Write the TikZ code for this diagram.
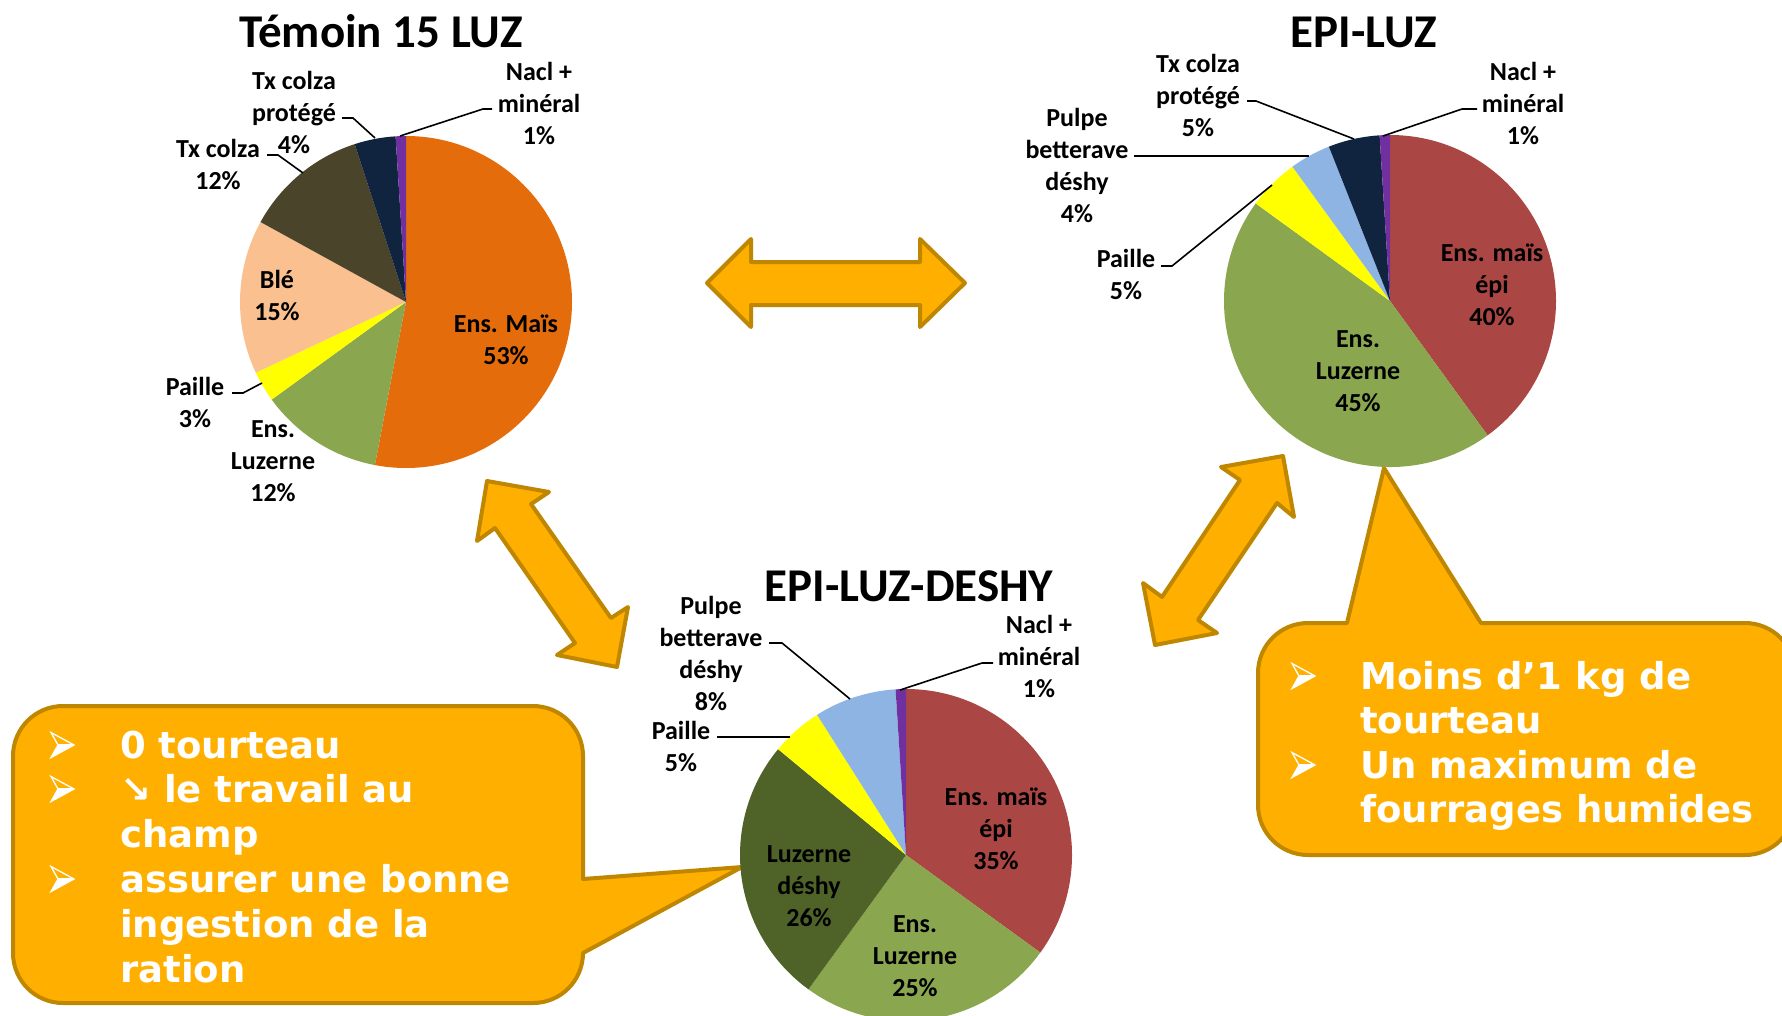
\documentclass[tikz,border=0pt]{standalone}
\usepackage{fontspec}
\setmainfont{Carlito}
\newfontfamily\callfont{DejaVu Sans}
\definecolor{mais}{HTML}{E46C0A}
\definecolor{luz}{HTML}{8AA64F}
\definecolor{ble}{HTML}{FAC090}
\definecolor{txc}{HTML}{4A452A}
\definecolor{navy}{HTML}{10243F}
\definecolor{nacl}{HTML}{7030A0}
\definecolor{paille}{HTML}{FFFF00}
\definecolor{epi}{HTML}{AA4643}
\definecolor{pulpe}{HTML}{8EB4E3}
\definecolor{luzd}{HTML}{4F6228}
\definecolor{arrowfill}{HTML}{FFAF00}
\definecolor{arrowline}{HTML}{BF8700}
\newcommand\pslice[4]{% center, start %, end %, colour
  \fill[#4] (#1) -- ++({-90+3.6*(#2)}:166) arc[start angle={-90+3.6*(#2)}, end angle={-90+3.6*(#3)}, radius=166] -- cycle;}
\newcommand\plab[3]{% name, first line centre, lines
  \foreach \t [count=\i] in {#3}{\node[lbl, name=#1-\i, yshift={-(32*(\i-1)+9)*1pt}] at (#2) {\t};}}
\begin{document}
\begin{tikzpicture}[x=1pt,y=-1pt,
  lbl/.style={font=\fontsize{26}{32}\selectfont\bfseries, inner sep=0pt, anchor=base},
  ttl/.style={font=\fontsize{47}{56}\selectfont\bfseries, inner sep=0pt, anchor=base},
  leader/.style={draw=black, line width=1.6pt},
  bigarrow/.style={fill=arrowfill, draw=arrowline, line width=4pt, line join=round},
  ctext/.style={font=\callfont\bfseries\fontsize{37}{45}\selectfont, text=white, inner sep=0pt, anchor=base west},
  bul/.pic={
    \fill[white] (-4,0) -- (12,0) -- (-11,12.5) -- cycle;
    \draw[white, line width=1.3pt, line join=miter] (-11,-12.5) -- (12,0) -- (-11,12.5) -- (-4,0) -- cycle;
    \draw[white, line width=1.3pt] (-4,0) -- (12,0);
  }]
\useasboundingbox (0,0) rectangle (1782,1015);
\fill[white] (0,0) rectangle (1782,1015);

% callouts
\draw[bigarrow] (1347,623) -- (1384,468) -- (1481,623) -- (1745,623)
  arc[start angle=-90, end angle=0, radius=50] -- (1795,805)
  arc[start angle=0, end angle=90, radius=50] -- (1308,855)
  arc[start angle=90, end angle=180, radius=50] -- (1258,673)
  arc[start angle=180, end angle=270, radius=50] -- cycle;
\draw[bigarrow] (583,879) -- (742,867) -- (583,953)
  arc[start angle=0, end angle=90, radius=50] -- (63,1003)
  arc[start angle=90, end angle=180, radius=50] -- (13,756)
  arc[start angle=180, end angle=270, radius=50] -- (533,706)
  arc[start angle=270, end angle=360, radius=50] -- cycle;

% double arrows
\draw[bigarrow] (707,283) -- (751,239) -- (751,262) -- (920,262) -- (920,239) -- (965,283)
  -- (920,327) -- (920,305) -- (751,305) -- (751,327) -- cycle;
\draw[bigarrow] (487,481) -- (549,492) -- (531,504) -- (611,618) -- (628,607) -- (617,667)
  -- (557,655) -- (575,643) -- (495,528) -- (477,541) -- cycle;
\draw[bigarrow] (1283,456) -- (1294,517) -- (1277,503) -- (1198,620) -- (1217,633) -- (1155,645)
  -- (1143,583) -- (1162,597) -- (1240,480) -- (1221,467) -- cycle;

% pies
\coordinate (c1) at (406,302);
\coordinate (c2) at (1390,301);
\coordinate (c3) at (906,855);
\pslice{c1}{0}{53}{mais}
\pslice{c1}{53}{65}{luz}
\pslice{c1}{65}{68}{paille}
\pslice{c1}{68}{83}{ble}
\pslice{c1}{83}{95}{txc}
\pslice{c1}{95}{99}{navy}
\pslice{c1}{99}{100}{nacl}

\pslice{c2}{0}{40}{epi}
\pslice{c2}{40}{85}{luz}
\pslice{c2}{85}{90}{paille}
\pslice{c2}{90}{94}{pulpe}
\pslice{c2}{94}{99}{navy}
\pslice{c2}{99}{100}{nacl}

\pslice{c3}{0}{35}{epi}
\pslice{c3}{35}{60}{luz}
\pslice{c3}{60}{86}{luzd}
\pslice{c3}{86}{91}{paille}
\pslice{c3}{91}{99}{pulpe}
\pslice{c3}{99}{100}{nacl}

% titles
\node[ttl] (t1) at (381,47) {Témoin 15 LUZ};
\node[ttl] (t2) at (1364,47) {EPI-LUZ};
\node[ttl] (t3) at (909,601) {EPI-LUZ-DESHY};

% labels pie 1
\plab{a1}{539,71}{Nacl +,minéral,1\%}
\plab{a2}{294,80}{Tx colza,protégé,4\%}
\plab{a3}{218,148}{Tx colza,12\%}
\plab{a4}{277,279}{Blé,15\%}
\plab{a5}{506,323}{Ens. Maïs,53\%}
\plab{a6}{195,386}{Paille,3\%}
\plab{a7}{273,428}{Ens.,Luzerne,12\%}
% labels pie 2
\plab{b1}{1198,63}{Tx colza,protégé,5\%}
\plab{b2}{1523,71}{Nacl +,minéral,1\%}
\plab{b3}{1077,117}{Pulpe,betterave,déshy,4\%}
\plab{b4}{1126,258}{Paille,5\%}
\plab{b5}{1492,252}{Ens. maïs,épi,40\%}
\plab{b6}{1358,338}{Ens.,Luzerne,45\%}
% labels pie 3
\plab{d1}{711,605}{Pulpe,betterave,déshy,8\%}
\plab{d2}{1039,624}{Nacl +,minéral,1\%}
\plab{d3}{681,730}{Paille,5\%}
\plab{d4}{996,796}{Ens. maïs,épi,35\%}
\plab{d5}{809,853}{Luzerne,déshy,26\%}
\plab{d6}{915,923}{Ens.,Luzerne,25\%}

% leader lines
\coordinate (la1a) at (492,109); \coordinate (la1b) at (483,109); \coordinate (la1c) at (400,136);
\coordinate (la2a) at (342,118); \coordinate (la2b) at (353,118); \coordinate (la2c) at (375,138);
\coordinate (la3a) at (267,155); \coordinate (la3b) at (278,155); \coordinate (la3c) at (303,173);
\coordinate (la6a) at (232,393); \coordinate (la6b) at (243,393); \coordinate (la6c) at (262,383);
\draw[leader] (la1a) -- (la1b) -- (la1c);
\draw[leader] (la2a) -- (la2b) -- (la2c);
\draw[leader] (la3a) -- (la3b) -- (la3c);
\draw[leader] (la6a) -- (la6b) -- (la6c);
\coordinate (lb1a) at (1247,101); \coordinate (lb1b) at (1256,101); \coordinate (lb1c) at (1354,139);
\coordinate (lb2a) at (1477,109); \coordinate (lb2b) at (1462,109); \coordinate (lb2c) at (1383,136);
\coordinate (lb3a) at (1134,156); \coordinate (lb3b) at (1309,156);
\coordinate (lb4a) at (1161,266); \coordinate (lb4b) at (1172,266); \coordinate (lb4c) at (1272,185);
\draw[leader] (lb1a) -- (lb1b) -- (lb1c);
\draw[leader] (lb2a) -- (lb2b) -- (lb2c);
\draw[leader] (lb3a) -- (lb3b);
\draw[leader] (lb4a) -- (lb4b) -- (lb4c);
\coordinate (ld1a) at (769,643); \coordinate (ld1b) at (782,643); \coordinate (ld1c) at (850,699);
\coordinate (ld2a) at (993,663); \coordinate (ld2b) at (982,663); \coordinate (ld2c) at (900,690);
\coordinate (ld3a) at (717,737); \coordinate (ld3b) at (790,737);
\draw[leader] (ld1a) -- (ld1b) -- (ld1c);
\draw[leader] (ld2a) -- (ld2b) -- (ld2c);
\draw[leader] (ld3a) -- (ld3b);

% callout texts
\pic (lb1) at (62,745) {bul};
\pic (lb2) at (62,789) {bul};
\pic (lb3) at (62,879) {bul};
\node[ctext] (lt1) at (120,758) {0 tourteau};
\node[ctext] (lt2) at (120,802) {↘ le travail au};
\node[ctext] (lt3) at (120,847) {champ};
\node[ctext] (lt4) at (120,892) {assurer une bonne};
\node[ctext] (lt5) at (120,937) {ingestion de la};
\node[ctext] (lt6) at (120,982) {ration};
\pic (rb1) at (1303,676) {bul};
\pic (rb2) at (1303,765) {bul};
\node[ctext] (rt1) at (1360,689) {Moins d’1 kg de};
\node[ctext] (rt2) at (1360,733) {tourteau};
\node[ctext] (rt3) at (1360,778) {Un maximum de};
\node[ctext] (rt4) at (1360,822) {fourrages humides};
\end{tikzpicture}
\end{document}
